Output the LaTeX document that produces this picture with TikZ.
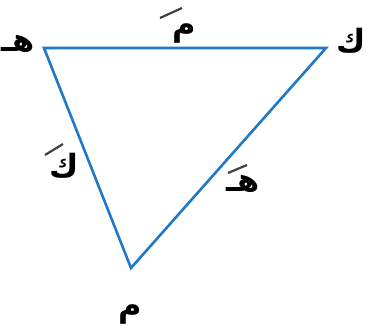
\documentclass[tikz,border=0pt]{standalone}
\usepackage{fontspec}
\newfontfamily\arabicfont[Script=Arabic]{DejaVu Sans Bold}
\TeXXeTstate=1
\definecolor{triblue}{HTML}{1F78C8}
\begin{document}
\begin{tikzpicture}[x=1pt,y=-1pt,
  side/.style={draw=triblue,line width=2.6pt,line join=miter},
  lbl/.style={inner sep=0pt,font=\arabicfont\fontsize{32}{36}\selectfont},
  bar/.style={draw=black!75,line width=2.2pt}]
\useasboundingbox (0,0) rectangle (373,335);
\coordinate (H) at (44,48);
\coordinate (K) at (326,48);
\coordinate (M) at (131,268);
\draw[side] (H) -- (K) -- (M) -- cycle;
% vertex labels
\node[lbl] (vh) at (18,44) {\beginR هـ\endR};
\node[lbl] (vk) at (351,41) {\beginR ك\endR};
\node[lbl] (vm) at (130,315) {\beginR م\endR};
% side labels
\node[lbl] (sm) at (184,34) {\beginR م\endR};
\node[lbl] (sk) at (64,166) {\beginR ك\endR};
\node[lbl] (sh) at (243,184) {\beginR هـ\endR};
% bars
\draw[bar] (160,18) -- (182,8);
\draw[bar] (45,155) -- (63,144);
\draw[bar] (228,173) -- (247,165);
\end{tikzpicture}
\end{document}
